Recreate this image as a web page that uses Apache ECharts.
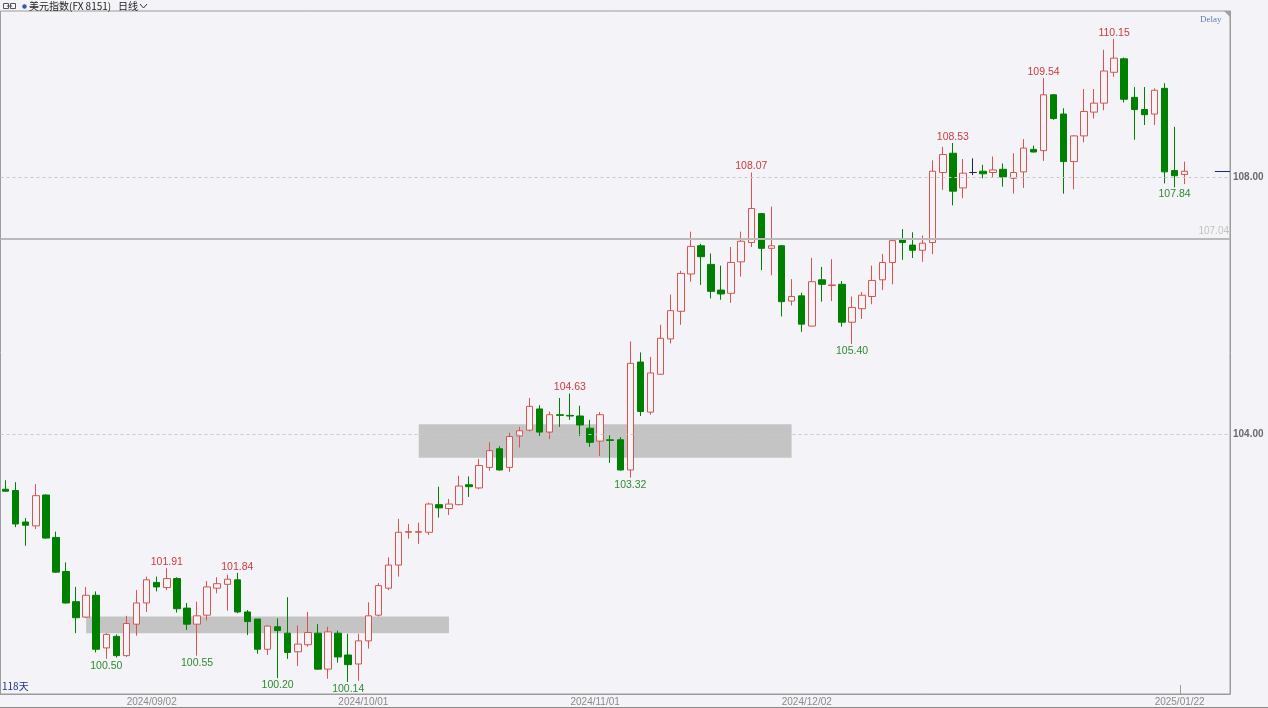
<!DOCTYPE html>
<html><head><meta charset="utf-8">
<script src="https://cdn.jsdelivr.net/npm/echarts@6/dist/echarts.min.js"></script>
<style>html,body{margin:0;padding:0;background:#f4f4f8;}#c{width:1268px;height:708px;}</style>
</head><body><div id="c"></div>
<script>
const dates = [
'2024/08/12','2024/08/13','2024/08/14','2024/08/15','2024/08/16','2024/08/19','2024/08/20','2024/08/21','2024/08/22','2024/08/23',
'2024/08/26','2024/08/27','2024/08/28','2024/08/29','2024/08/30',
'2024/09/02','2024/09/03','2024/09/04','2024/09/05','2024/09/06','2024/09/09','2024/09/10','2024/09/11','2024/09/12','2024/09/13',
'2024/09/16','2024/09/17','2024/09/18','2024/09/19','2024/09/20','2024/09/23','2024/09/24','2024/09/25','2024/09/26','2024/09/27','2024/09/30',
'2024/10/01','2024/10/02','2024/10/03','2024/10/04','2024/10/07','2024/10/08','2024/10/09','2024/10/10','2024/10/11','2024/10/14',
'2024/10/15','2024/10/16','2024/10/17','2024/10/18','2024/10/21','2024/10/22','2024/10/23','2024/10/24','2024/10/25','2024/10/28',
'2024/10/29','2024/10/30','2024/10/31',
'2024/11/01','2024/11/04','2024/11/05','2024/11/06','2024/11/07','2024/11/08','2024/11/11','2024/11/12','2024/11/13','2024/11/14',
'2024/11/15','2024/11/18','2024/11/19','2024/11/20','2024/11/21','2024/11/22','2024/11/25','2024/11/26','2024/11/27','2024/11/28','2024/11/29',
'2024/12/02','2024/12/03','2024/12/04','2024/12/05','2024/12/06','2024/12/09','2024/12/10','2024/12/11','2024/12/12','2024/12/13',
'2024/12/16','2024/12/17','2024/12/18','2024/12/19','2024/12/20','2024/12/23','2024/12/24','2024/12/25','2024/12/26','2024/12/27',
'2024/12/30','2024/12/31',
'2025/01/01','2025/01/02','2025/01/03','2025/01/06','2025/01/07','2025/01/08','2025/01/09','2025/01/10','2025/01/13','2025/01/14',
'2025/01/15','2025/01/16','2025/01/17','2025/01/20','2025/01/21','2025/01/22'
];
const open = [103.14,103.12,102.63,102.57,103.05,102.39,101.86,101.39,101.15,101.49,
100.67,100.85,100.55,101.04,101.37,101.69,101.61,101.75,101.29,101.04,
101.18,101.60,101.66,101.73,101.23,101.12,100.65,101.00,100.90,100.61,
100.72,100.90,100.34,100.90,100.56,100.42,100.78,101.18,101.60,101.96,
102.47,102.47,102.47,102.90,102.84,102.90,103.21,103.16,103.48,103.77,
103.48,103.97,104.06,104.39,104.03,104.30,104.29,104.28,104.09,103.89,
103.91,103.91,103.44,105.12,104.34,104.93,105.48,105.91,106.49,106.93,
106.64,106.24,106.19,106.68,106.98,107.43,106.89,106.93,106.07,106.15,
105.68,106.40,106.31,106.33,105.74,105.95,106.14,106.40,106.67,107.02,
106.94,106.86,106.98,108.07,108.37,107.83,108.07,108.09,108.07,108.12,
107.98,108.08,108.43,108.41,109.28,108.98,108.24,108.64,109.01,109.15,
109.63,109.84,109.24,109.05,108.98,109.38,108.10,108.04];
const close = [103.11,102.60,102.58,103.04,102.38,101.85,101.37,101.14,101.49,100.65,
100.88,100.55,101.05,101.37,101.73,101.62,101.75,101.28,101.04,101.17,
101.62,101.67,101.74,101.23,101.08,100.65,101.01,100.94,100.60,100.73,
100.91,100.34,100.92,100.53,100.41,100.78,101.17,101.64,101.96,102.47,
102.48,102.48,102.91,102.85,102.91,103.19,103.18,103.51,103.74,103.44,
103.96,104.05,104.43,104.03,104.30,104.29,104.28,104.14,103.87,104.30,
103.90,103.44,105.10,104.35,104.95,105.49,105.92,106.50,106.92,106.76,
106.22,106.18,106.67,107.00,107.51,106.89,106.93,106.06,106.14,105.71,
106.37,106.33,106.32,105.74,105.97,106.16,106.39,106.67,107.01,106.98,
106.86,106.97,108.09,108.35,107.78,108.06,108.07,108.05,108.11,108.00,
108.07,108.45,108.39,109.28,108.91,108.24,108.64,109.02,109.15,109.65,
109.85,109.21,109.05,108.97,109.35,108.08,108.02,108.09];
const low = [103.10,102.55,102.26,102.52,102.37,101.84,101.36,100.90,101.14,100.60,
100.50,100.52,100.53,100.86,101.23,101.55,101.57,101.22,100.95,100.55,
101.10,101.52,101.25,101.21,100.87,100.58,100.56,100.20,100.50,100.39,
100.69,100.33,100.19,100.44,100.14,100.16,100.66,101.16,101.57,101.78,
102.37,102.29,102.43,102.70,102.74,102.89,103.02,103.14,103.43,103.43,
103.41,103.79,104.04,103.97,103.92,104.11,104.22,103.97,103.80,103.66,
103.55,103.43,103.32,104.28,104.30,104.92,105.41,105.70,106.37,106.32,
106.11,106.09,106.04,106.45,106.91,106.55,106.47,105.83,106.00,105.59,
105.67,106.06,106.07,105.67,105.40,105.79,106.02,106.24,106.33,106.71,
106.74,106.68,106.80,107.80,107.56,107.67,108.03,107.98,108.00,107.85,
107.74,107.83,108.38,108.25,108.89,107.74,107.81,108.54,108.91,109.04,
109.56,109.16,108.58,108.81,108.81,107.90,107.84,107.89];
const high = [103.28,103.25,102.69,103.22,103.06,102.48,102.00,101.62,101.62,101.55,
100.90,100.88,101.17,101.57,101.78,101.78,101.91,101.77,101.37,101.39,
101.71,101.77,101.81,101.84,101.26,101.12,101.02,101.13,101.46,101.02,
101.23,101.04,101.00,100.94,100.89,100.89,101.38,101.68,102.08,102.68,
102.60,102.62,102.93,103.18,102.99,103.35,103.34,103.61,103.87,103.81,
104.02,104.11,104.56,104.45,104.35,104.56,104.63,104.44,104.22,104.34,
103.98,103.95,105.44,105.27,105.20,105.70,106.17,106.54,107.15,106.96,
106.81,106.62,106.91,107.15,108.07,107.44,107.54,106.94,106.41,106.20,
106.74,106.60,106.72,106.38,106.14,106.21,106.62,106.80,107.03,107.19,
107.14,107.09,108.26,108.47,108.53,108.28,108.29,108.19,108.32,108.21,
108.37,108.59,108.49,109.54,109.29,109.07,108.65,109.37,109.37,109.98,
110.15,109.86,109.40,109.40,109.38,109.46,108.78,108.24];
const tickLabels = ['2024/09/02','2024/10/01','2024/11/01','2024/12/02','2025/01/22'];
const yLabels = [104, 108];
const dashedLevels = [104, 108];
const refLevel = 107.04;
const highMarks = [[16,'101.91'],[23,'101.84'],[56,'104.63'],[74,'108.07'],[94,'108.53'],[103,'109.54'],[110,'110.15']];
const lowMarks = [[10,'100.50'],[19,'100.55'],[27,'100.20'],[34,'100.14'],[62,'103.32'],[84,'105.40'],[116,'107.84']];
const bands = [[8,44,100.90,101.16],[41,78,103.63,104.15]];
const darkDoji = [96];
const blankSlots = 4;
const yMin = 99.953, yMax = 110.584;

const BG = '#f4f4f8', RED = '#d9534f', GREEN = '#008000', DARK = '#1d2352';
const cats = dates.concat(Array(blankSlots).fill(''));
const kData = dates.map((d, i) => {
  const v = [open[i], close[i], low[i], high[i]];
  if (darkDoji.includes(i)) return {value: v, itemStyle: {color: DARK, color0: DARK, borderColor: DARK, borderColor0: DARK}};
  return v;
});
const FONT = 'Liberation Sans';
const chart = echarts.init(document.getElementById('c'), null, {renderer: 'canvas'});
chart.setOption({
  animation: false,
  backgroundColor: BG,
  grid: {left: 0.5, top: 11, width: 1229.5, height: 683, show: true, borderColor: '#9c9c9c', borderWidth: 1, backgroundColor: 'transparent', outerBoundsMode: 'none', containLabel: false},
  xAxis: {
    type: 'category', data: cats, boundaryGap: true,
    axisLine: {show: true, lineStyle: {color: '#9c9c9c'}},
    axisTick: {show: false},
    splitLine: {show: false},
    axisLabel: {interval: (i, v) => tickLabels.includes(v), color: '#8a8a8a', fontSize: 10, fontFamily: FONT, margin: 3, padding: [0, 10, 0, 0]}
  },
  yAxis: {
    type: 'value', position: 'right', min: yMin, max: yMax, scale: true,
    splitLine: {show: false}, axisTick: {show: false},
    axisLine: {show: true, lineStyle: {color: '#9c9c9c'}},
    axisLabel: {customValues: yLabels, formatter: v => v.toFixed(2), color: '#6a6a6a', fontWeight: 'bold', fontSize: 10, fontFamily: FONT, margin: 3}
  },
  series: [{
    type: 'candlestick', data: kData, barWidth: 7,
    itemStyle: {color: BG, color0: GREEN, borderColor: RED, borderColor0: GREEN, borderWidth: 1},
    markArea: {silent: true, itemStyle: {color: '#c4c4c4'},
      data: bands.map(b => [{coord: [b[0], b[3]]}, {coord: [b[1], b[2]]}])},
    markLine: {silent: true, symbol: ['none', 'none'],
      data: dashedLevels.map(v => ({yAxis: v, lineStyle: {type: [3, 3], color: '#c9c9c9', width: 1}, label: {show: false}}))
        .concat([{yAxis: refLevel, lineStyle: {type: 'solid', color: '#bababa', width: 2},
          label: {show: true, position: 'insideEndTop', formatter: refLevel.toFixed(2), color: '#c2c2c2', fontSize: 10, fontFamily: FONT, distance: [1, 2]}}])},
    markPoint: {silent: true, symbol: 'circle', symbolSize: 1, itemStyle: {color: 'rgba(0,0,0,0)'},
      data: highMarks.map(([i, t]) => ({coord: [i, +t], value: t, label: {show: true, position: 'top', distance: 0, color: '#cc3b3b', fontSize: 10.5, fontFamily: FONT, formatter: t}}))
        .concat(lowMarks.map(([i, t]) => ({coord: [i, +t], value: t, label: {show: true, position: 'bottom', distance: 1, color: '#2f8a2f', fontSize: 10.5, fontFamily: FONT, formatter: t}})))}
  }]
});

const px = (i, v) => chart.convertToPixel({xAxisIndex: 0, yAxisIndex: 0}, [i, v]);
const last = dates.length - 1;
const band = px(1, yMin)[0] - px(0, yMin)[0];
const bottomY = px(0, yMin)[1];
const rightX = px(cats.length - 1, yMin)[0] + band / 2;
const tickX = Math.round(px(last, yMin)[0] - band / 2) + 0.5;
const lastY = Math.round(px(last, close[last])[1]) + 0.5;
const curX = px(last + 3, close[last])[0];
chart.setOption({graphic: [
  {type: 'line', shape: {x1: tickX, y1: bottomY - 9, x2: tickX, y2: bottomY}, style: {stroke: '#9c9c9c', lineWidth: 1}},
  {type: 'line', shape: {x1: curX, y1: lastY, x2: rightX, y2: lastY}, style: {stroke: '#1d2a7a', lineWidth: 1}},
  {type: 'polygon', shape: {points: [[rightX - 6, 11], [rightX, 11], [rightX, 17]]}, style: {fill: '#a0a0a0'}},
  {type: 'text', style: {text: 'Delay', x: 1200, y: 20, fill: '#5f7fb8', font: '9px "Liberation Serif"', verticalAlign: 'middle'}},
  {type: 'text', style: {text: '118天', x: 2, y: 686, fill: '#1f2f8f', font: '10px "Noto Sans CJK SC"', verticalAlign: 'middle'}},
  {type: 'rect', shape: {x: 3.5, y: 3.5, width: 5, height: 5}, style: {fill: 'none', stroke: '#555', lineWidth: 1}},
  {type: 'rect', shape: {x: 10.5, y: 3.5, width: 5, height: 5}, style: {fill: 'none', stroke: '#555', lineWidth: 1}},
  {type: 'line', shape: {x1: 7, y1: 6, x2: 12, y2: 6}, style: {stroke: '#555', lineWidth: 1}},
  {type: 'circle', shape: {cx: 24.5, cy: 6.5, r: 2.2}, style: {fill: '#34589c'}},
  {type: 'text', style: {text: '美元指数(FX 8151)', x: 29, y: 6.5, fill: '#222', font: '10px "Noto Sans CJK SC"', verticalAlign: 'middle'}},
  {type: 'text', style: {text: '日线', x: 118, y: 6.5, fill: '#222', font: '10px "Noto Sans CJK SC"', verticalAlign: 'middle'}},
  {type: 'polyline', shape: {points: [[140, 4], [143.5, 8], [147, 4]]}, style: {stroke: '#333', lineWidth: 1, fill: 'none'}},
  {type: 'line', shape: {x1: 0, y1: 707.5, x2: 1268, y2: 707.5}, style: {stroke: '#8a8a8a', lineWidth: 1}}
]});
</script></body></html>
